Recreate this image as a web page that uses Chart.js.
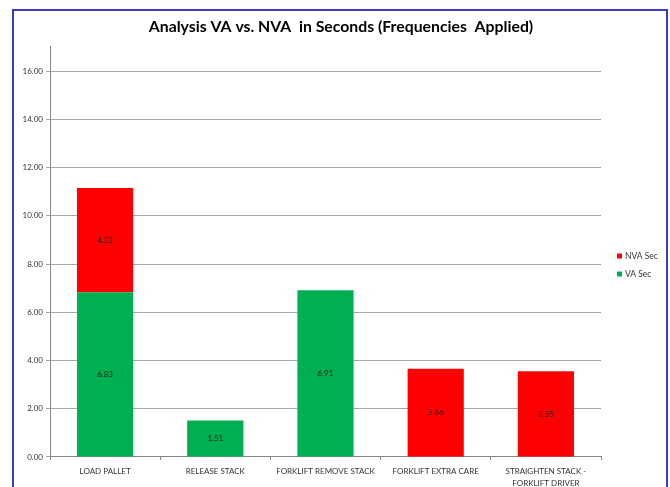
<!DOCTYPE html>
<html>
<head>
<meta charset="utf-8">
<script src="https://cdn.jsdelivr.net/npm/chart.js@4/dist/chart.umd.min.js"></script>
<style>
  html, body { margin: 0; padding: 0; background: #ffffff; overflow: hidden; }
  #frame { position: absolute; left: 12px; top: 9px; width: 652px; height: 520px; border: 2px solid #3b3bc6; }
  #c { position: absolute; left: 0; top: 0; }
</style>
</head>
<body>
<div id="frame"></div>
<canvas id="c" width="670" height="487"></canvas>
<script>
const chartTitle = 'Analysis VA vs. NVA  in Seconds (Frequencies  Applied)';
const categories = ['LOAD PALLET', 'RELEASE STACK', 'FORKLIFT REMOVE STACK', 'FORKLIFT EXTRA CARE', ['STRAIGHTEN STACK -', 'FORKLIFT DRIVER']];
const vaSec = [6.83, 1.51, 6.91, null, null];
const nvaSec = [4.32, null, null, 3.66, 3.55];
const seriesNames = ['VA Sec', 'NVA Sec'];
const seriesColors = ['#00b050', '#ff0000'];
const yMin = 0, yMax = 17, yStep = 2, yTickMax = 16;

const FONT = 'Lato, "Liberation Sans", sans-serif';

const valueLabels = {
  id: 'valueLabels',
  afterDatasetsDraw(chart) {
    const ctx = chart.ctx;
    ctx.save();
    ctx.font = '8px ' + FONT;
    ctx.fillStyle = '#1a1a1a';
    ctx.textAlign = 'center';
    ctx.textBaseline = 'middle';
    chart.data.datasets.forEach((ds, di) => {
      const meta = chart.getDatasetMeta(di);
      meta.data.forEach((el, i) => {
        const v = ds.data[i];
        if (v === null || v === undefined || v === 0) return;
        const p = el.getProps(['x', 'y', 'base'], true);
        ctx.fillText(v.toFixed(2), p.x, (p.y + p.base) / 2);
      });
    });
    ctx.restore();
  }
};

const sideLegend = {
  id: 'sideLegend',
  afterDraw(chart) {
    const ctx = chart.ctx;
    const area = chart.chartArea;
    ctx.save();
    ctx.font = '8.5px ' + FONT;
    ctx.textBaseline = 'middle';
    ctx.textAlign = 'left';
    const ds = chart.data.datasets.slice().reverse();
    const x0 = area.right + 16;
    const y0 = 256;
    ds.forEach((d, i) => {
      const y = y0 + i * 18;
      ctx.fillStyle = d.backgroundColor;
      ctx.fillRect(x0, y - 2.5, 5, 5);
      ctx.fillStyle = '#333333';
      ctx.fillText(d.label, x0 + 8, y);
    });
    ctx.restore();
  }
};

new Chart(document.getElementById('c'), {
  type: 'bar',
  data: {
    labels: categories,
    datasets: [
      { label: seriesNames[0], data: vaSec, backgroundColor: seriesColors[0], borderWidth: 0 },
      { label: seriesNames[1], data: nvaSec, backgroundColor: seriesColors[1], borderWidth: 0 }
    ]
  },
  options: {
    responsive: false,
    devicePixelRatio: 1,
    animation: false,
    layout: { padding: { left: 12, right: 0, top: 0, bottom: 0 } },
    datasets: { bar: { categoryPercentage: 1.0, barPercentage: 0.51 } },
    plugins: {
      legend: { display: false },
      tooltip: { enabled: false },
      title: {
        display: true,
        text: chartTitle,
        color: '#000000',
        font: { family: FONT, size: 15.8, weight: 'bold', lineHeight: 1.2 },
        padding: { top: 17, bottom: 11 }
      }
    },
    scales: {
      x: {
        stacked: true,
        afterFit(a) { a.height = 30; },
        grid: { display: true, drawOnChartArea: false, drawTicks: true, tickLength: 3, color: '#868686', offset: true },
        border: { display: true, color: '#868686' },
        ticks: { color: '#333333', font: { family: FONT, size: 8, lineHeight: 1.5 }, padding: 5, maxRotation: 0, autoSkip: false }
      },
      y: {
        stacked: true,
        min: yMin,
        max: yMax,
        afterFit(a) { a.width = 38; },
        afterBuildTicks(a) { a.ticks = a.ticks.filter(t => t.value <= yTickMax); },
        grid: { color: '#a6a6a6', tickLength: 4, drawTicks: true },
        border: { display: true, color: '#868686' },
        ticks: {
          stepSize: yStep,
          color: '#333333',
          padding: 3,
          font: { family: FONT, size: 8 },
          callback: v => Number(v).toFixed(2)
        }
      },
      yRight: {
        axis: 'y',
        type: 'linear',
        position: 'right',
        display: true,
        afterFit(a) { a.width = 69; },
        grid: { display: false, drawOnChartArea: false },
        border: { display: false },
        ticks: { display: false }
      }
    }
  },
  plugins: [valueLabels, sideLegend]
});
</script>
</body>
</html>
